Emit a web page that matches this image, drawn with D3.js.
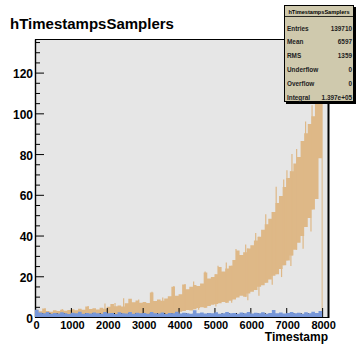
<!DOCTYPE html>
<html>
<head>
<meta charset="utf-8">
<script src="https://cdn.jsdelivr.net/npm/d3@7"></script>
<style>
  body { margin: 0; background: #fff; }
  text { font-family: "Liberation Sans", Arial, sans-serif; font-weight: bold; }
</style>
</head>
<body>
<svg class="chart"></svg>
<script>
let width = 356,
  height = 344;

// histogram bins of 100 timestamp units, 0 .. 8000
let binWidth = 100;

// orange histogram: upper and lower edge of the noisy band per bin
let orangeHi = [
  3.5, 2.8, 4.2, 3.0, 2.6, 3.3, 2.9, 3.6, 3.1, 3.4,
  3.8, 3.3, 4.0, 3.6, 5.2, 3.9, 4.3, 3.7, 4.6, 4.1,
  5.0, 6.4, 5.3, 5.6, 5.1, 6.8, 9.0, 7.2, 8.1, 7.0,
  7.4, 6.9, 12.0, 7.8, 8.6, 8.0, 9.1, 10.2, 14.8, 10.4,
  11.2, 15.9, 13.6, 14.8, 15.7, 15.2, 16.4, 21.8, 18.9, 19.6,
  21.0, 24.6, 22.4, 23.8, 25.2, 28.0, 32.6, 30.4, 31.8, 33.6,
  35.2, 37.6, 39.4, 42.8, 45.6, 48.2, 51.6, 56.0, 59.4, 63.8,
  68.2, 71.6, 75.4, 78.6, 86.4, 90.2, 94.8, 98.6, 108, 131
];
let orangeLo = [
  0, 0, 0, 0, 0, 0, 0, 0, 0, 0,
  0, 0, 0, 0, 0, 0, 0, 0, 0, 0,
  0, 0, 0, 0, 0, 0, 0, 0, 0, 0,
  0, 0, 0, 0, 0, 0, 0, 0, 0, 0,
  2.6, 3.0, 3.4, 3.2, 3.8, 4.4, 4.8, 4.6, 5.4, 6.0,
  6.4, 6.8, 7.4, 7.0, 8.0, 8.6, 9.6, 10.4, 10.0, 11.6,
  12.4, 13.2, 14.8, 15.6, 16.8, 18.4, 20.2, 21.0, 23.6, 25.4,
  27.8, 30.2, 33.0, 36.4, 39.8, 44.2, 48.6, 52.8, 58.0, 78.0
];
// single tall bins sticking out of the orange band [timestamp, count]
let orangeSpikes = [
  [280, 4.3], [760, 3.9], [1480, 5.4], [1950, 6.6], [2230, 6.9], [2470, 9.2],
  [2890, 8.6], [3260, 12.4], [3560, 9.6], [3870, 15.2], [4180, 16.2],
  [4420, 17.4], [4740, 22.4], [5100, 25.2], [5330, 26.8], [5600, 33.4],
  [5870, 35.6], [6150, 41.2], [6430, 50.4], [6720, 64], [6930, 67.5],
  [7020, 72], [7160, 80], [7290, 82.5], [7540, 96], [7720, 104]
];
// single low bins dipping under the orange band [timestamp, count]
let orangeDips = [
  [4560, 3.6], [5040, 5.2], [5480, 7.0], [5930, 8.2], [6240, 10.4],
  [6610, 15.8], [6870, 19.6], [7130, 25.0], [7470, 33.5], [7690, 42.0]
];

// blue histogram: upper edge per bin (lower edge is 0)
let blueHi = [
  3.6, 2.2, 1.8, 2.4, 1.6, 2.0, 1.7, 2.3, 1.9, 1.5,
  2.1, 1.8, 2.6, 1.6, 2.0, 1.7, 2.2, 1.9, 1.6, 2.4,
  1.8, 2.0, 1.5, 2.3, 1.9, 1.7, 2.5, 1.6, 2.1, 1.8,
  2.0, 1.6, 2.4, 1.9, 1.7, 2.2, 1.5, 2.0, 1.8, 2.6,
  1.7, 2.1, 1.9, 1.6, 3.3, 1.8, 2.2, 1.7, 2.0, 1.9,
  2.3, 1.6, 1.9, 2.5, 1.8, 2.0, 1.6, 2.2, 1.9, 2.4,
  1.7, 2.1, 1.8, 2.3, 1.6, 2.0, 3.4, 1.9, 2.2, 1.7,
  2.0, 2.4, 1.8, 2.1, 1.6, 2.3, 1.9, 2.6, 2.0, 3.0
];

let xTicks = [0, 1000, 2000, 3000, 4000, 5000, 6000, 7000, 8000];
let yTicks = [0, 20, 40, 60, 80, 100, 120];

let statsLabels = ["Entries", "Mean", "RMS", "Underflow", "Overflow", "Integral"];
let statsValues = ["139710", "6597", "1359", "0", "0", "1.397e+05"];

let x = d3.scaleLinear().domain([0, 8192]).range([35, 329]);
let y = d3.scaleLinear().domain([0, 136.5]).range([317, 39]);

let svg = d3.select(".chart").attr("width", width).attr("height", height);

// frame background
svg
  .append("rect")
  .attr("x", x.range()[0])
  .attr("y", y.range()[1])
  .attr("width", x.range()[1] - x.range()[0])
  .attr("height", y.range()[0] - y.range()[1])
  .attr("fill", "#e6e6e6");

let plot = svg.append("g");
let orange = "#deb887";

// orange band
let orangeBins = orangeHi.map((h, i) => ({ t: i * binWidth, lo: orangeLo[i], hi: h }));
orangeBins.push({ t: orangeHi.length * binWidth, lo: orangeLo[orangeLo.length - 1], hi: orangeHi[orangeHi.length - 1] });

plot
  .append("path")
  .datum(orangeBins)
  .attr("fill", orange)
  .attr(
    "d",
    d3
      .area()
      .curve(d3.curveStepAfter)
      .x((d) => x(d.t))
      .y0((d) => y(d.lo))
      .y1((d) => y(d.hi))
  );

// spikes go up from the band, dips go down from it
function bandAt(t) {
  let i = Math.min(orangeHi.length - 1, Math.floor(t / binWidth));
  return [orangeLo[i], orangeHi[i]];
}

plot
  .selectAll(".spike")
  .data(orangeSpikes)
  .enter()
  .append("line")
  .attr("class", "spike")
  .attr("x1", (d) => x(d[0]))
  .attr("x2", (d) => x(d[0]))
  .attr("y1", (d) => y(bandAt(d[0])[0]))
  .attr("y2", (d) => y(d[1]))
  .attr("stroke", orange)
  .attr("stroke-width", 1.2);

plot
  .selectAll(".dip")
  .data(orangeDips)
  .enter()
  .append("line")
  .attr("class", "dip")
  .attr("x1", (d) => x(d[0]))
  .attr("x2", (d) => x(d[0]))
  .attr("y1", (d) => y(bandAt(d[0])[1]))
  .attr("y2", (d) => y(d[1]))
  .attr("stroke", orange)
  .attr("stroke-width", 1.2);

// drop of the last bin back to zero
let lastT = orangeHi.length * binWidth;
plot
  .append("line")
  .attr("x1", x(lastT))
  .attr("x2", x(lastT))
  .attr("y1", y(0))
  .attr("y2", y(orangeHi[orangeHi.length - 1]))
  .attr("stroke", orange)
  .attr("stroke-width", 1);

// axes, drawn over the first histogram
let xMinor = d3.range(0, 8192, 200).filter((v) => v % 1000 != 0);
let yMinor = d3.range(0, 136, 5).filter((v) => v % 20 != 0);

let xAxis = svg.append("g").attr("transform", "translate(0," + y(0) + ")");
xAxis
  .call(d3.axisBottom(x).tickValues(xMinor).tickSize(-4).tickSizeOuter(0).tickFormat(""))
  .call((g) => g.select(".domain").remove());
xAxis
  .append("g")
  .call(
    d3.axisBottom(x).tickValues(xTicks).tickSize(-9).tickSizeOuter(0).tickPadding(4).tickFormat(d3.format("d"))
  )
  .call((g) => g.select(".domain").attr("stroke-width", 1))
  .call((g) => g.selectAll("text").attr("font-size", 11).attr("dx", 1).attr("fill", "#000"));

let yAxis = svg.append("g").attr("transform", "translate(" + x(0) + ",0)");
yAxis
  .call(d3.axisLeft(y).tickValues(yMinor).tickSize(-5).tickSizeOuter(0).tickFormat(""))
  .call((g) => g.select(".domain").remove());
yAxis
  .append("g")
  .call(d3.axisLeft(y).tickValues(yTicks).tickSize(-9).tickSizeOuter(0).tickPadding(2))
  .call((g) => g.select(".domain").attr("stroke-width", 1.4))
  .call((g) => g.selectAll("text").attr("font-size", 12).attr("dy", "0.42em").attr("fill", "#000"));

// blue histogram, drawn after the axes
let blueBins = blueHi.map((h, i) => ({ t: i * binWidth, hi: h }));
blueBins.push({ t: blueHi.length * binWidth, hi: blueHi[blueHi.length - 1] });

svg
  .append("path")
  .datum(blueBins)
  .attr("fill", "#7797d9")
  .attr(
    "d",
    d3
      .area()
      .curve(d3.curveStepAfter)
      .x((d) => x(d.t))
      .y0(y(0))
      .y1((d) => y(d.hi))
  );

// top and right frame lines
svg
  .append("line")
  .attr("x1", x.range()[0])
  .attr("x2", x.range()[1])
  .attr("y1", y.range()[1] + 0.5)
  .attr("y2", y.range()[1] + 0.5)
  .attr("stroke", "#000");
svg
  .append("line")
  .attr("x1", x.range()[1] - 0.5)
  .attr("x2", x.range()[1] - 0.5)
  .attr("y1", y.range()[1])
  .attr("y2", y.range()[0])
  .attr("stroke", "#000")
  .attr("stroke-width", 2);

// title and axis title
svg
  .append("text")
  .attr("x", 10)
  .attr("y", 29)
  .attr("font-size", 15)
  .text("hTimestampsSamplers");

svg
  .append("text")
  .attr("x", 328)
  .attr("y", 341)
  .attr("text-anchor", "end")
  .attr("font-size", 12)
  .text("Timestamp");

// stats box
let box = svg.append("g").attr("transform", "translate(284,5)");
box.append("rect").attr("x", 2).attr("y", 2).attr("width", 70).attr("height", 97).attr("fill", "#000");
box
  .append("rect")
  .attr("x", 0.5)
  .attr("y", 0.5)
  .attr("width", 69)
  .attr("height", 96)
  .attr("fill", "#cfc9ad")
  .attr("stroke", "#000")
  .attr("stroke-width", 1);
box
  .append("text")
  .attr("x", 35)
  .attr("y", 8.5)
  .attr("text-anchor", "middle")
  .attr("font-size", 5.6)
  .text("hTimestampsSamplers");
box
  .append("line")
  .attr("x1", 0)
  .attr("x2", 70)
  .attr("y1", 11.5)
  .attr("y2", 11.5)
  .attr("stroke", "#000")
  .attr("stroke-width", 0.8);

let rows = box
  .selectAll(".row")
  .data(statsLabels)
  .enter()
  .append("g")
  .attr("class", "row")
  .attr("transform", (d, i) => "translate(0," + (25.5 + i * 13.8) + ")");
rows
  .append("text")
  .attr("x", 3)
  .attr("font-size", 6.4)
  .attr("fill", "#222")
  .text((d) => d);
rows
  .append("text")
  .attr("x", 68)
  .attr("text-anchor", "end")
  .attr("font-size", 6.4)
  .attr("fill", "#222")
  .text((d, i) => statsValues[i]);
</script>
</body>
</html>
